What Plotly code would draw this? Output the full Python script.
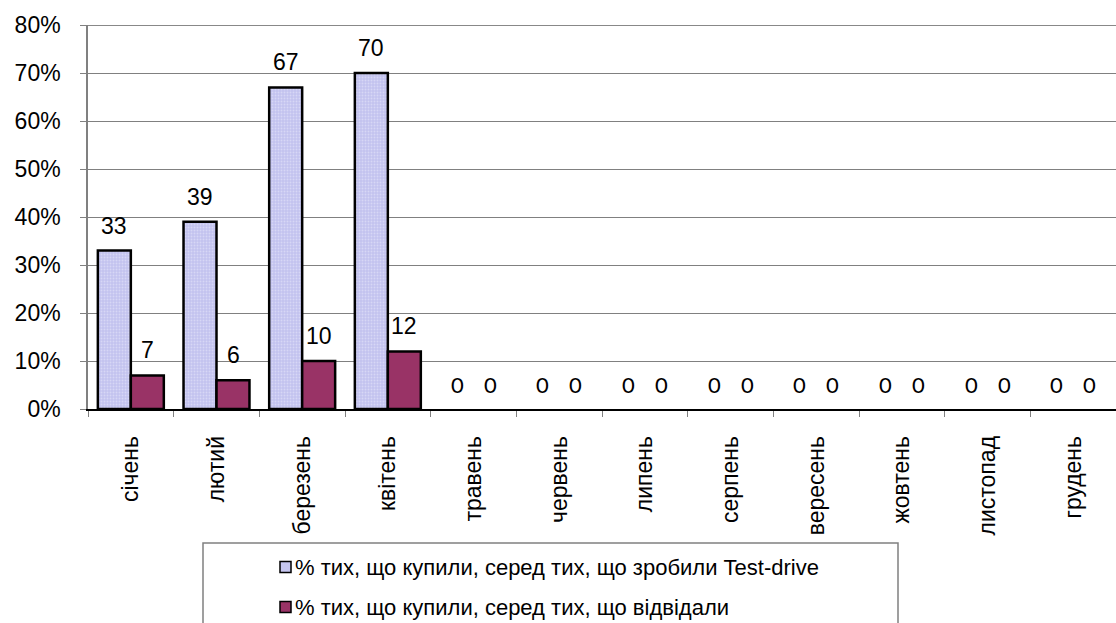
import plotly.graph_objects as go

# Monthly conversion shares, in percent
months = ["січень", "лютий", "березень", "квітень", "травень", "червень",
          "липень", "серпень", "вересень", "жовтень", "листопад", "грудень"]
bought_after_test_drive = [33, 39, 67, 70, 0, 0, 0, 0, 0, 0, 0, 0]
bought_after_visit = [7, 6, 10, 12, 0, 0, 0, 0, 0, 0, 0, 0]
series_names = ["% тих, що купили, серед тих, що зробили Test-drive",
                "% тих, що купили, серед тих, що відвідали"]
y_ticks = [0, 10, 20, 30, 40, 50, 60, 70, 80]
y_tick_labels = ["0%", "10%", "20%", "30%", "40%", "50%", "60%", "70%", "80%"]

W, H = 1116, 623
L, R, T, B = 88, 0, 25, 214
PW, PH = W - L - R, H - T - B

LIGHT = "#C6C6F0"
PLUM = "#993366"
ARIAL = "Liberation Sans, Arial, sans-serif"
ZERO_FONT = "Lato, Carlito, sans-serif"


def px_x(px):
    return (px - L) / PW


def px_y(py):
    return (H - B - py) / PH


def outline(values):
    # empty months get no outline so nothing is drawn on the baseline
    return [2.5 if v else 0 for v in values]


fig = go.Figure()
fig.add_trace(go.Bar(
    x=months, y=bought_after_test_drive, name=series_names[0],
    marker=dict(color=LIGHT,
                line=dict(color="black", width=outline(bought_after_test_drive)),
                pattern=dict(shape=".", fgcolor="#EBEBFB", bgcolor="#C2C2EE",
                             size=3, solidity=0.35)),
    showlegend=False,
))
fig.add_trace(go.Bar(
    x=months, y=bought_after_visit, name=series_names[1],
    marker=dict(color=PLUM,
                line=dict(color="black", width=outline(bought_after_visit))),
    showlegend=False,
))

# value labels above each bar
for series, shift in ((bought_after_test_drive, -16.5), (bought_after_visit, 16.5)):
    for m, v in zip(months, series):
        fig.add_annotation(
            x=m, y=v, xref="x", yref="y", text=str(v), showarrow=False,
            xshift=shift, yshift=25, yanchor="middle",
            font=dict(family=ARIAL if v else ZERO_FONT, size=23 if v else 22,
                      color="black"),
        )

# legend box
fig.add_shape(type="rect", xref="paper", yref="paper",
              x0=px_x(203), x1=px_x(898), y0=px_y(660), y1=px_y(543),
              line=dict(color="#808080", width=1.5), fillcolor="white")
for i, (name, col) in enumerate(zip(series_names, [LIGHT, PLUM])):
    cy = 567 + 40 * i
    fig.add_shape(type="rect", xref="paper", yref="paper",
                  x0=px_x(280), x1=px_x(291), y0=px_y(cy + 5.5), y1=px_y(cy - 5.5),
                  line=dict(color="black", width=1.5), fillcolor=col)
    fig.add_annotation(x=px_x(293), y=px_y(cy), xref="paper", yref="paper",
                       text=name, showarrow=False, xanchor="left", yanchor="middle",
                       font=dict(family=ARIAL, size=22, color="black"))

# heavier top edge
fig.add_shape(type="line", xref="paper", yref="y", x0=0, x1=1, y0=80, y1=80,
              line=dict(color="#888888", width=2))

fig.update_layout(
    width=W, height=H,
    margin=dict(l=L, r=R, t=T, b=B, pad=0),
    paper_bgcolor="white", plot_bgcolor="white",
    barmode="group", bargap=0.23, bargroupgap=0,
    font=dict(family=ARIAL, color="black"),
    xaxis=dict(
        type="category", tickangle=-90, tickson="boundaries",
        ticks="outside", ticklen=6, tickcolor="#808080", tickwidth=1,
        ticklabelstandoff=16,
        showline=True, linecolor="black", linewidth=1.5,
        showgrid=False, tickfont=dict(family=ARIAL, size=23, color="black"),
        range=[-0.5, 11.5],
    ),
    yaxis=dict(
        range=[0, 80], tickmode="array", tickvals=y_ticks, ticktext=y_tick_labels,
        ticks="outside", ticklen=6, tickcolor="#808080", tickwidth=1,
        ticklabelstandoff=15,
        showline=True, linecolor="#808080", linewidth=1.5,
        showgrid=True, gridcolor="#808080", gridwidth=1, zeroline=False,
        tickfont=dict(family=ARIAL, size=23, color="black"),
    ),
)

fig.write_html("out.html")
